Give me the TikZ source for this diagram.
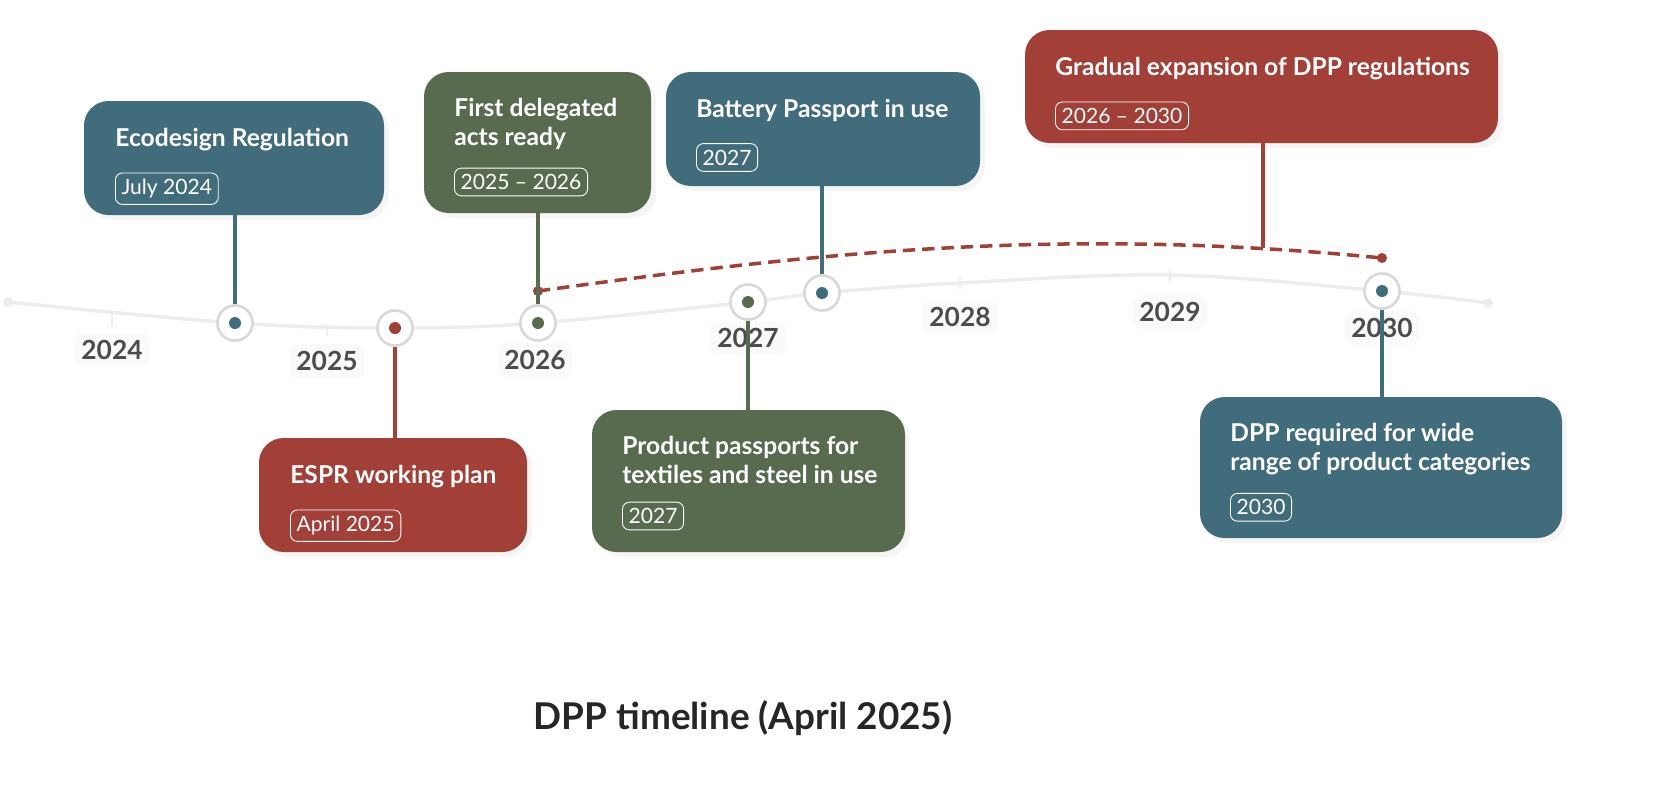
\documentclass[tikz,border=0pt]{standalone}
\usepackage{fontspec}
\setmainfont{Lato}
\usetikzlibrary{positioning}
\definecolor{dppblue}{HTML}{416C7C}
\definecolor{dppred}{HTML}{A23F37}
\definecolor{dppgreen}{HTML}{586B4E}
\definecolor{axisgray}{HTML}{EDEDED}
\tikzset{
  cardtitle/.style={anchor=north west, text=white, font=\fontsize{14}{16.5}\selectfont\bfseries, align=left, inner sep=0pt},
  badge/.style={anchor=north west, draw=white!60, line width=0.5pt, rounded corners=4pt, text=white, font=\fontsize{12}{14}\selectfont, inner sep=3.5pt},
  dot/.style={circle, draw=gray!30, line width=1.5pt, fill=white, minimum size=20pt, inner sep=0pt},
  year/.style={fill=gray!4, rounded corners=4pt, text=black!70, font=\fontsize{15}{17}\selectfont\bfseries, inner sep=4pt},
}
\begin{document}
\begin{tikzpicture}[x=0.02cm, y=-0.02cm]
      \useasboundingbox (0,0) rectangle (1666,806);
      % timeline
      \draw[axisgray, line width=2pt] plot[smooth, tension=0.6] coordinates {(8,302) (235,323) (395,328) (538,323) (748,302) (822,293) (960,283) (1170,275) (1382,291) (1488,303)};
      \fill[axisgray] (8,302) circle (5) (1488,303) circle (5);
      \foreach \x/\yt in {112/320, 327/330, 535/327, 748/302, 960/283, 1170/276, 1382/291}
        \draw[axisgray, line width=1.5pt] (\x,\yt-6) -- (\x,\yt+6);
      \node[year] (y24) at (112,350) {2024};
      \node[year] (y25) at (327,361) {2025};
      \node[year] (y26) at (535,360) {2026};
      \node[year] (y27) at (748,338) {2027};
      \node[year] (y28) at (960,317) {2028};
      \node[year] (y29) at (1170,312) {2029};
      \node[year] (y30) at (1382,328) {2030};
      % cards
      \foreach \nm/\col/\xa/\ya/\xb/\yb in {eco/dppblue/84/101/384/215, espr/dppred/259/438/527/552, first/dppgreen/424/72/651/213, prod/dppgreen/592/410/905/552, bat/dppblue/666/72/980/186, grad/dppred/1025/30/1498/143, wide/dppblue/1200/397/1562/538} {
        \fill[gray!8, rounded corners=14pt] (\xa+4,\ya+4) rectangle (\xb+5,\yb+5);
        \fill[\col, rounded corners=14pt] (\xa,\ya) rectangle (\xb,\yb);
      }
      \node[cardtitle] (eco-t) at (115,128) {Ecodesign Regulation};
      \node[badge, below=12pt of eco-t.south west, anchor=north west] {July 2024};
      \node[cardtitle] (espr-t) at (290,465) {ESPR working plan};
      \node[badge, below=12pt of espr-t.south west, anchor=north west] {April 2025};
      \node[cardtitle] (first-t) at (454,98) {First delegated\\acts ready};
      \node[badge, below=10pt of first-t.south west, anchor=north west] {2025 – 2026};
      \node[cardtitle] (prod-t) at (622,436) {Product passports for\\textiles and steel in use};
      \node[badge, below=10pt of prod-t.south west, anchor=north west] {2027};
      \node[cardtitle] (bat-t) at (696,99) {Battery Passport in use};
      \node[badge, below=12pt of bat-t.south west, anchor=north west] {2027};
      \node[cardtitle] (grad-t) at (1055,57) {Gradual expansion of DPP regulations};
      \node[badge, below=12pt of grad-t.south west, anchor=north west] {2026 – 2030};
      \node[cardtitle] (wide-t) at (1230,423) {DPP required for wide\\range of product categories};
      \node[badge, below=10pt of wide-t.south west, anchor=north west] {2030};
      % expansion arc
      \coordinate (gs) at (538,291);
      \coordinate (ge) at (1382,258);
      \draw[dppred, line width=2pt, dash pattern=on 7pt off 4pt] (gs) .. controls (800,255) and (1050,225) .. (ge);
      \fill[dppred] (gs) circle (5) (ge) circle (5);
      \draw[dppred, line width=2.5pt] (1263,143) -- (1263,248);
      % connectors and dots
      \foreach \nm/\col/\x/\y/\yc in {d1/dppblue/235/323/215, d2/dppred/395/328/438, d3/dppgreen/538/323/213, d4/dppgreen/748/302/410, d5/dppblue/822/293/186, d6/dppblue/1382/291/397} {
        \coordinate (\nm-c) at (\x,\yc);
        \node[dot] (\nm) at (\x,\y) {};
        \draw[\col, line width=2.5pt] (\nm) -- (\nm-c);
        \fill[\col] (\nm) circle (6);
      }
      \node[font=\fontsize{21}{24}\selectfont\bfseries, text=black!85] (title) at (743,718) {DPP timeline (April 2025)};
\end{tikzpicture}
\end{document}
